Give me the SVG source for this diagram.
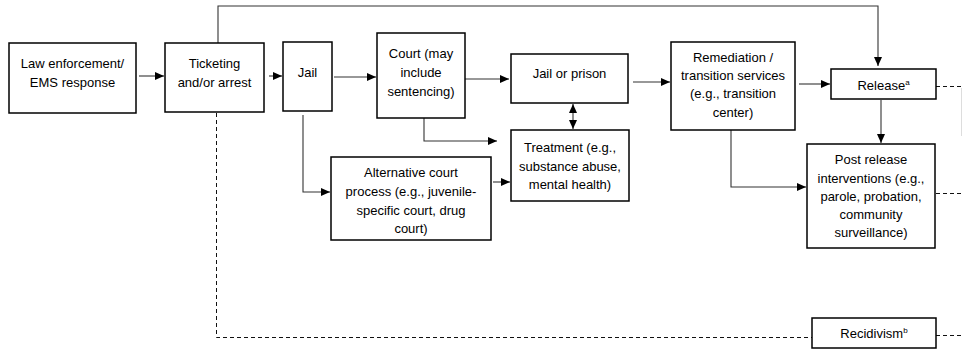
<svg xmlns="http://www.w3.org/2000/svg" width="963" height="350" viewBox="0 0 963 350">
<style>
.box{fill:#fff;stroke:#000;stroke-width:1.5}
.t{font-family:"Liberation Sans",Arial,sans-serif;font-size:13px;fill:#000;text-anchor:middle}
.c{fill:none;stroke:#333;stroke-width:1.1}
.d{fill:none;stroke:#111;stroke-width:1;stroke-dasharray:4 3}
.sup{font-size:8px}
</style>
<defs>
<marker id="ah" markerUnits="userSpaceOnUse" markerWidth="10" markerHeight="8" refX="9" refY="4" orient="auto">
<path d="M0,0 L9,4 L0,8 Z" fill="#000"/>
</marker>
<marker id="as" markerUnits="userSpaceOnUse" markerWidth="10" markerHeight="8" refX="9" refY="4" orient="auto-start-reverse">
<path d="M0,0 L9,4 L0,8 Z" fill="#000"/>
</marker>
</defs>
<g id="connectors">
<line class="c" x1="139" y1="76" x2="164" y2="76" marker-end="url(#ah)"/>
<line class="c" x1="269" y1="76" x2="282" y2="76" marker-end="url(#ah)"/>
<line class="c" x1="334" y1="77" x2="376" y2="77" marker-end="url(#ah)"/>
<line class="c" x1="460" y1="79" x2="509" y2="79" marker-end="url(#ah)"/>
<polyline class="c" points="424,118 424,141 497,141" marker-end="url(#ah)"/>
<polyline class="c" points="303,115 303,192 330,192" marker-end="url(#ah)"/>
<line class="c" x1="493" y1="182" x2="510" y2="182" marker-end="url(#ah)"/>
<line class="c" x1="573" y1="104" x2="573" y2="129" marker-start="url(#as)" marker-end="url(#ah)"/>
<line class="c" x1="633" y1="82" x2="670" y2="82" marker-end="url(#ah)"/>
<line class="c" x1="799" y1="84" x2="830" y2="84" marker-end="url(#ah)"/>
<line class="c" x1="881" y1="100" x2="881" y2="143" marker-end="url(#ah)"/>
<polyline class="c" points="731,130 731,187 806,187" marker-end="url(#ah)"/>
<polyline class="c" points="218,43 218,6 878,6 878,66" marker-end="url(#ah)"/>
<polyline class="d" points="216.5,113 216.5,337.5 812,337.5"/>
<line class="d" x1="936" y1="86.5" x2="963" y2="86.5"/>
<line class="d" x1="936" y1="193.5" x2="963" y2="193.5"/>
<line class="d" x1="936" y1="335.5" x2="963" y2="335.5"/>
<line x1="961.5" y1="88" x2="961.5" y2="136" stroke="#ddd" stroke-width="1"/>
</g>
<g id="law">
<rect class="box" x="9" y="43" width="127" height="70"/>
<text class="t" x="72.5" y="68">Law enforcement/</text>
<text class="t" x="72.5" y="87">EMS response</text>
</g>
<g id="ticketing">
<rect class="box" x="165" y="43" width="99" height="69"/>
<text class="t" x="214.5" y="68">Ticketing</text>
<text class="t" x="214.5" y="87">and/or arrest</text>
</g>
<g id="jail">
<rect class="box" x="283" y="42" width="49" height="69"/>
<text class="t" x="307.5" y="77">Jail</text>
</g>
<g id="court">
<rect class="box" x="377" y="33" width="88" height="85"/>
<text class="t" x="421" y="58">Court (may</text>
<text class="t" x="421" y="77">include</text>
<text class="t" x="421" y="96">sentencing)</text>
</g>
<g id="jailprison">
<rect class="box" x="511" y="54" width="117" height="49"/>
<text class="t" x="569.5" y="78">Jail or prison</text>
</g>
<g id="treatment">
<rect class="box" x="511" y="130" width="118" height="71"/>
<text class="t" x="570" y="152">Treatment (e.g.,</text>
<text class="t" x="570" y="171">substance abuse,</text>
<text class="t" x="570" y="189">mental health)</text>
</g>
<g id="alternative">
<rect class="box" x="331" y="157" width="160" height="83"/>
<text class="t" x="411" y="177">Alternative court</text>
<text class="t" x="411" y="196">process (e.g., juvenile-</text>
<text class="t" x="411" y="215">specific court, drug</text>
<text class="t" x="411" y="233">court)</text>
</g>
<g id="remediation">
<rect class="box" x="671" y="42" width="124" height="88"/>
<text class="t" x="733" y="62">Remediation /</text>
<text class="t" x="733" y="80">transition services</text>
<text class="t" x="733" y="98">(e.g., transition</text>
<text class="t" x="733" y="117">center)</text>
</g>
<g id="release">
<rect class="box" x="831" y="69" width="105" height="30"/>
<text class="t" x="883.5" y="90">Release<tspan class="sup" dy="-5">a</tspan></text>
</g>
<g id="postrelease">
<rect class="box" x="807" y="144" width="128" height="104"/>
<text class="t" x="871" y="164">Post release</text>
<text class="t" x="871" y="183">interventions (e.g.,</text>
<text class="t" x="871" y="201">parole, probation,</text>
<text class="t" x="871" y="219">community</text>
<text class="t" x="871" y="237">surveillance)</text>
</g>
<g id="recidivism">
<rect class="box" x="812" y="318" width="124" height="30"/>
<text class="t" x="874" y="338">Recidivism<tspan class="sup" dy="-5">b</tspan></text>
</g>
</svg>
